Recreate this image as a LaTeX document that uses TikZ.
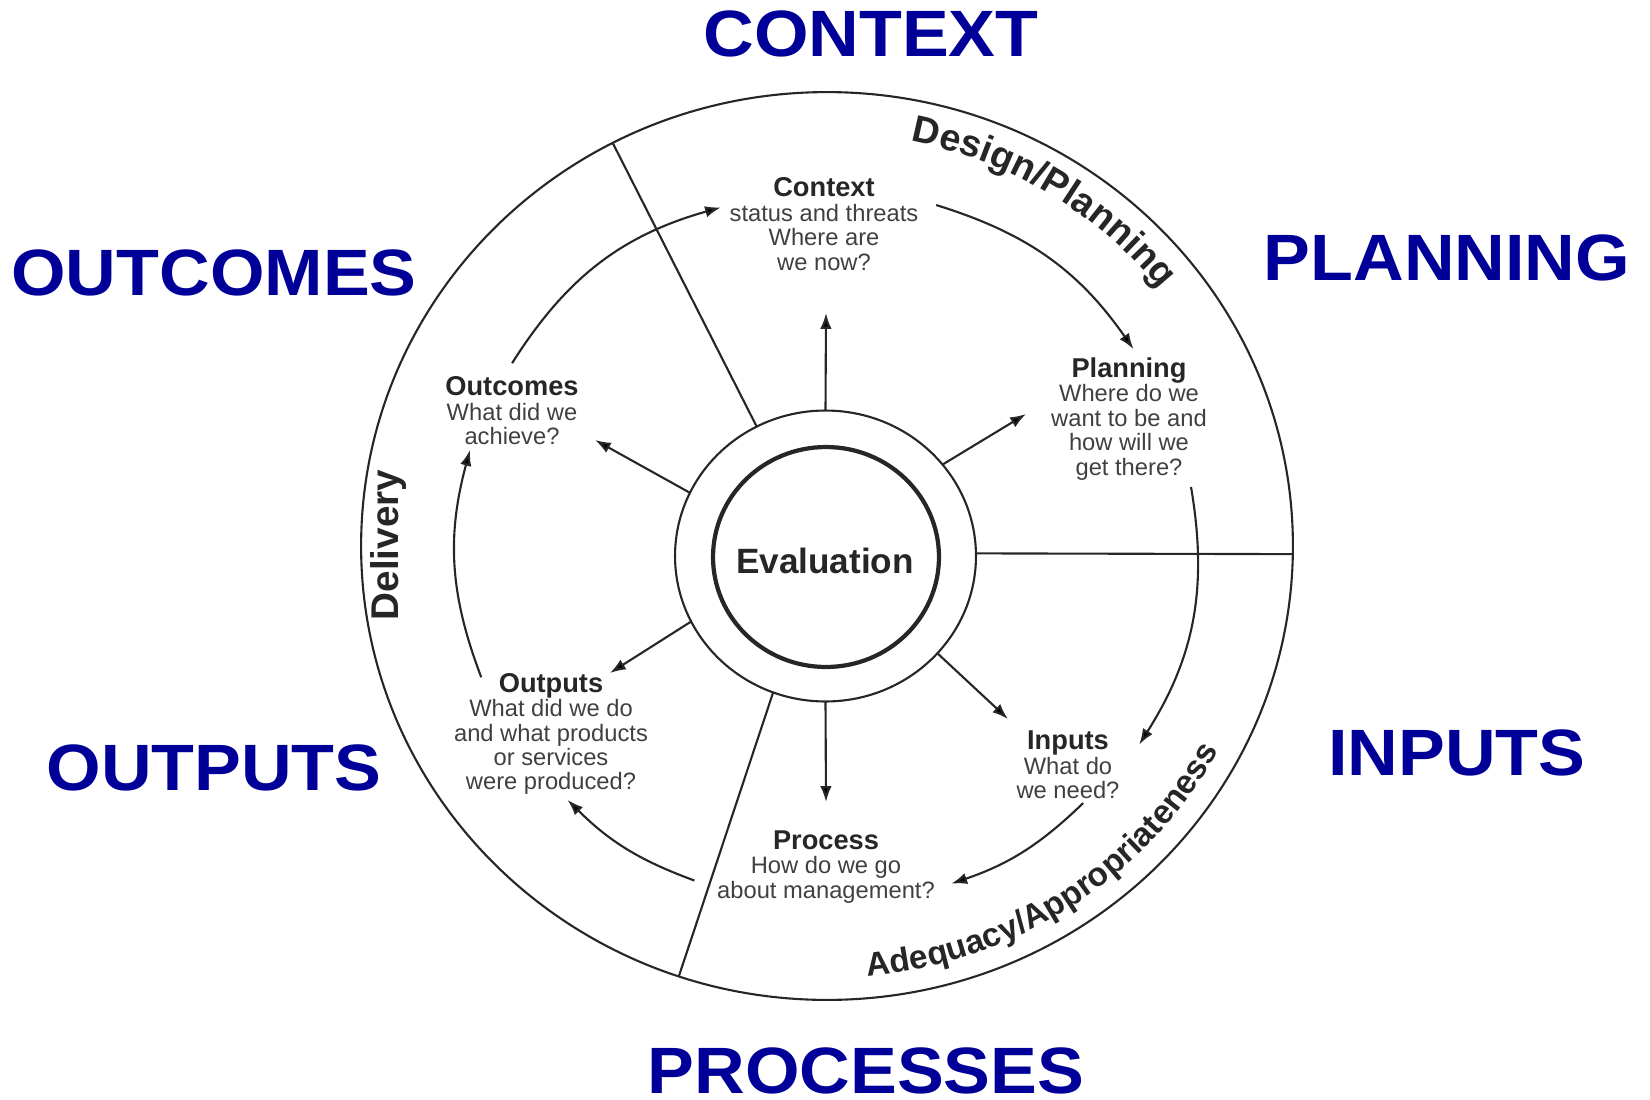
\documentclass[tikz,border=0pt]{standalone}
\usepackage{fontspec}
\setmainfont{Liberation Sans}
\usetikzlibrary{shapes.geometric, arrows.meta, calc, decorations.text}
\definecolor{labelblue}{RGB}{0,0,153}
\newcommand{\stagehead}[1]{{\fontsize{15.5}{13.9}\selectfont\bfseries\color{black!85}#1}}

\begin{document}
\begin{tikzpicture}[x=0.02cm, y=0.02cm,
    bigword/.style={text=labelblue, font=\fontsize{37.3}{40}\selectfont\bfseries, xscale=1.07, inner sep=0pt},
    stage/.style={align=center, text=black!75, font=\fontsize{13.5}{13.9}\selectfont, inner sep=0pt},
    oval/.style={ellipse, draw=black!85, inner sep=0pt, outer sep=0pt},
    divider/.style={draw=black!85, line width=1.2pt},
    rayarrow/.style={draw=black!85, line width=1.2pt, -{Latex[length=9pt, width=6.5pt]}},
    rimtext/.style={text=black!85, font=\fontsize{22}{22}\selectfont\bfseries}]
    \useasboundingbox (0,0) rectangle (1650,-1099);

    % Rim and evaluation rings
    \node[oval, line width=1.2pt, minimum width=18.64cm, minimum height=18.16cm] (rim) at (827,-546) {};
    \node[oval, line width=1.2pt, minimum width=6.02cm, minimum height=5.82cm] (ring) at (825.5,-556) {};
    \node[oval, line width=2.4pt, minimum width=4.52cm, minimum height=4.40cm] (eval) at (826,-557) {};
    \node[text=black!85, font=\fontsize{20}{20}\selectfont\bfseries] (evaltext) at (825,-561) {Evaluation};

    % Dividers
    \draw[divider] (ring.118) -- (rim.118);
    \draw[divider] (ring.1) -- (rim.359);
    \draw[divider] (ring.249) -- (rim.251);

    % Rim texts
    \node[rimtext, rotate=90] (delivery) at (389,-545) {Delivery};
    \path[decorate, decoration={text along path, text color=black!85, text align=center,
          text={|\fontsize{21.5}{21.5}\selectfont\bfseries|Design/Planning}}]
        ($(rim.center)+(82:8.5cm and 8.26cm)$) arc[start angle=82, end angle=35, x radius=8.5cm, y radius=8.26cm];
    \path[decorate, decoration={text along path, text color=black!85, text align=center,
          text={|\fontsize{19}{19}\selectfont\bfseries|Adequacy/Appropriateness}}]
        ($(rim.center)+(-87:8.9cm and 8.64cm)$) arc[start angle=-87, end angle=-26, x radius=8.9cm, y radius=8.64cm];

    % Stages
    \node[stage] (context) at (824,-224) {\stagehead{Context}\\status and threats\\Where are\\we now?};
    \node[stage] (planning) at (1129,-419) {\stagehead{Planning}\\Where do we\\want to be and\\how will we\\get there?};
    \node[stage] (inputs) at (1068,-765) {\stagehead{Inputs}\\What do\\we need?};
    \node[stage] (process) at (826,-867) {\stagehead{Process}\\How do we go\\about management?};
    \node[stage] (outputs) at (551,-734) {\stagehead{Outputs}\\What did we do\\and what products\\or services\\were produced?};
    \node[stage] (outcomes) at (512,-411) {\stagehead{Outcomes}\\What did we\\achieve?};

    % Arrows out of the evaluation ring
    \coordinate (toContext) at (826,-313);
    \coordinate (toPlanning) at (1026,-414);
    \coordinate (toInputs) at (1008,-719);
    \coordinate (toProcess) at (826,-802);
    \coordinate (toOutputs) at (610,-673);
    \coordinate (toOutcomes) at (595,-440);
    \draw[rayarrow] (ring.90) -- (toContext);
    \draw[rayarrow] (ring.38) -- (toPlanning);
    \draw[rayarrow] (ring.319) -- (toInputs);
    \draw[rayarrow] (ring.270) -- (toProcess);
    \draw[rayarrow] (ring.206) -- (toOutputs);
    \draw[rayarrow] (ring.155) -- (toOutcomes);

    % Cycle round the stages
    \coordinate (fromContext) at ($(ring.center)+(72.5:368)$);
    \coordinate (intoPlanning) at ($(ring.center)+(33.9:371)$);
    \coordinate (fromPlanning) at ($(ring.center)+(10.7:372)$);
    \coordinate (intoInputs) at ($(ring.center)+(-31:366)$);
    \coordinate (fromInputs) at ($(ring.center)+(-43.8:357)$);
    \coordinate (intoProcess) at ($(ring.center)+(-69:351)$);
    \coordinate (fromProcess) at ($(ring.center)+(-112:350)$);
    \coordinate (intoOutputs) at ($(ring.center)+(-136.6:355)$);
    \coordinate (fromOutputs) at ($(ring.center)+(-160.6:365)$);
    \coordinate (intoOutcomes) at ($(ring.center)+(163.4:371)$);
    \coordinate (fromOutcomes) at ($(ring.center)+(148.4:368)$);
    \coordinate (intoContext) at ($(ring.center)+(106.7:364)$);
    \draw[rayarrow] (fromContext) to[bend left=19] (intoPlanning);
    \draw[rayarrow] (fromPlanning) to[bend left=21] (intoInputs);
    \draw[rayarrow] (fromInputs) to[bend left=12.6] (intoProcess);
    \draw[rayarrow] (fromProcess) to[bend left=12.3] (intoOutputs);
    \draw[rayarrow] (fromOutputs) to[bend left=18] (intoOutcomes);
    \draw[rayarrow] (fromOutcomes) to[bend left=21] (intoContext);

    % Headline words
    \node[bigword] (contextword) at (871,-34) {CONTEXT};
    \node[bigword] (planningword) at (1447,-258) {PLANNING};
    \node[bigword] (inputsword) at (1457,-753) {INPUTS};
    \node[bigword] (processesword) at (866,-1071) {PROCESSES};
    \node[bigword] (outputsword) at (214,-768) {OUTPUTS};
    \node[bigword] (outcomesword) at (214,-273) {OUTCOMES};
\end{tikzpicture}
\end{document}
